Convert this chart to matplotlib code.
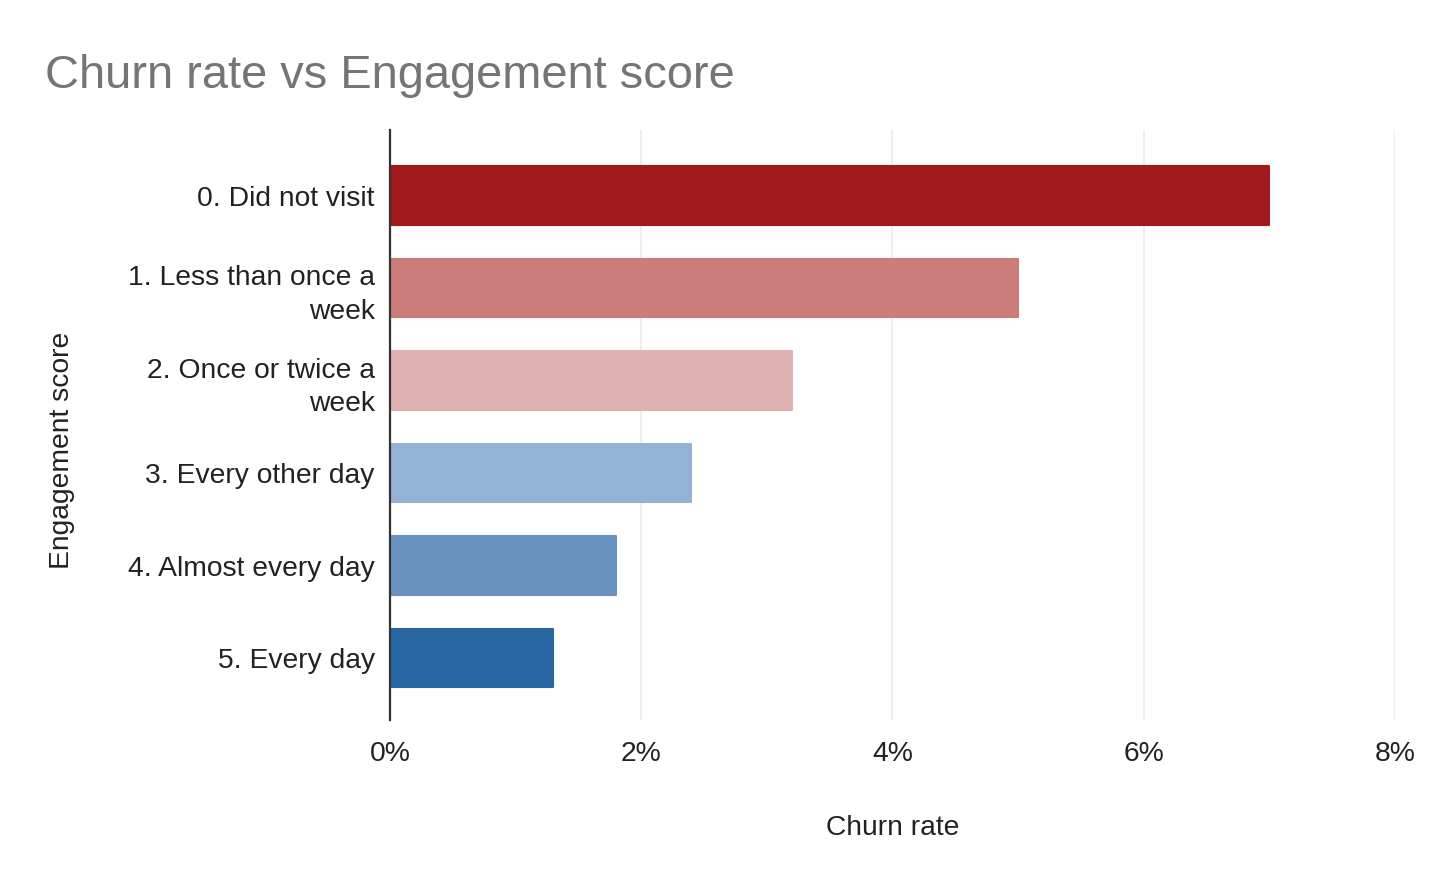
import matplotlib.pyplot as plt
from matplotlib.ticker import FuncFormatter

categories = ['0. Did not visit', '1. Less than once a\nweek', '2. Once or twice a\nweek',
              '3. Every other day', '4. Almost every day', '5. Every day']
churn = [7.0, 5.0, 3.2, 2.4, 1.8, 1.3]
colors = ['#A0191C', '#CB7C7B', '#E0B1B1', '#94B2D3', '#6893BE', '#2866A4']
xticks = [0, 2, 4, 6, 8]

plt.rcParams['font.family'] = ['Liberation Sans', 'DejaVu Sans']

fig = plt.figure(figsize=(14.4, 8.9), dpi=100)
ax = fig.add_axes([0.2708, 0.191, 0.6979, 0.663])

ypos = list(range(len(categories)))
bars = ax.barh(ypos, churn, height=0.63, color=colors, edgecolor=colors, linewidth=1.5, zorder=3)
for b in bars:
    b.set_joinstyle('round')

ax.set_xlim(0, 8)
ax.set_ylim(5.67, -0.71)
ax.set_xticks(xticks)
ax.xaxis.set_major_formatter(FuncFormatter(lambda v, p: '%d%%' % v))
ax.set_yticks(ypos)
ax.set_yticklabels(categories, linespacing=1.38)
ax.tick_params(axis='both', length=0, labelsize=20.3, colors='#222222')
ax.tick_params(axis='y', pad=11)
ax.tick_params(axis='x', pad=15)
ax.grid(axis='x', color='#ebebeb', linewidth=1.2, zorder=0)

for s in ['top', 'right', 'bottom']:
    ax.spines[s].set_visible(False)
ax.spines['left'].set_color('#333333')
ax.spines['left'].set_linewidth(1.6)
ax.spines['left'].set_zorder(4)

fig.text(893 / 1440, 1 - 828 / 890, 'Churn rate', ha='center', va='center', fontsize=20.3, color='#222222')
fig.text(62 / 1440, 1 - 450 / 890, 'Engagement score', rotation=90, ha='center', va='center',
         fontsize=20.3, color='#222222')
fig.text(45 / 1440, 1 - 76 / 890, 'Churn rate vs Engagement score', ha='left', va='center',
         fontsize=33.8, color='#757575')

fig.savefig('out.png', dpi=100, facecolor='white')
